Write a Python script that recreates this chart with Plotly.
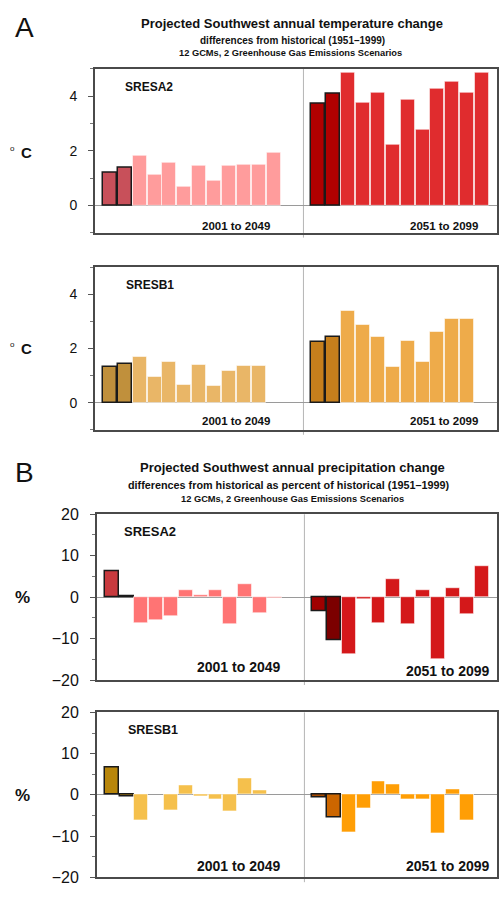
import plotly.graph_objects as go

# ---- data: projected Southwest annual changes, 12 GCMs per period ----
# Temperature change (deg C) vs 1951-1999
temp_a2_early = [1.19, 1.36, 1.80, 1.13, 1.54, 0.69, 1.46, 0.90, 1.46, 1.48, 1.50, 1.91]
temp_a2_late = [3.72, 4.10, 4.84, 3.74, 4.13, 2.20, 3.86, 2.76, 4.25, 4.51, 4.13, 4.86]
temp_b1_early = [1.31, 1.41, 1.68, 0.96, 1.49, 0.66, 1.39, 0.61, 1.18, 1.37, 1.37, None]
temp_b1_late = [2.22, 2.41, 3.37, 2.85, 2.43, 1.33, 2.29, 1.51, 2.59, 3.08, 3.08, None]

# Precipitation change (% of 1951-1999)
prec_a2_early = [6.2, 0.3, -6.3, -5.5, -4.7, 1.6, 0.4, 1.6, -6.5, 3.0, -3.8, -0.2]
prec_a2_late = [-3.5, -10.5, -13.8, -0.6, -6.2, 4.4, -6.6, 1.7, -15.0, 2.2, -4.1, 7.4]
prec_b1_early = [6.7, -0.4, -6.2, None, -3.7, 2.3, -0.4, -1.1, -4.0, 4.1, 1.0, None]
prec_b1_late = [-0.6, -5.6, -9.0, -3.3, 3.3, 2.5, -1.1, -1.1, -9.4, 1.4, -6.2, None]

temp_ticks = [0, 2, 4]
prec_ticks = [-20, -10, 0, 10, 20]
period_labels = ["2001 to 2049", "2051 to 2099"]
scenario_labels = ["SRESA2", "SRESB1"]

W, H = 500, 899
FONT = "Liberation Sans, Arial, sans-serif"
INK = "#111111"

fig = go.Figure()


def bar_style(dark, light, dark2=None):
    """First two bars highlighted with a dark fill and black outline."""
    d2 = dark2 or dark
    fills = [dark, d2] + [light] * 10
    edges = ["#1a1a1a", "#1a1a1a"] + ["rgba(255,255,255,0.55)"] * 10
    widths = [1.5, 1.5] + [1.0] * 10
    return fills, edges, widths


def add_group(values, start, axis_n, style):
    fills, edges, widths = style
    xs = [start + i for i in range(len(values))]
    fig.add_trace(go.Bar(
        x=xs, y=values, width=0.94,
        marker=dict(color=fills, line=dict(color=edges, width=widths)),
        xaxis="x" if axis_n == 1 else f"x{axis_n}",
        yaxis="y" if axis_n == 1 else f"y{axis_n}",
        showlegend=False, hoverinfo="x+y",
    ))


EARLY, LATE = 1, 15

add_group(temp_a2_early, EARLY, 1, bar_style("#c8505a", "#ff9c9c"))
add_group(temp_a2_late, LATE, 1, bar_style("#b00000", "#e02c2e"))
add_group(temp_b1_early, EARLY, 2, bar_style("#c0903c", "#e9b667"))
add_group(temp_b1_late, LATE, 2, bar_style("#c67f1c", "#eeab4a"))
add_group(prec_a2_early, EARLY, 3, bar_style("#c83a3e", "#ff7474"))
add_group(prec_a2_late, LATE, 3, bar_style("#a00000", "#d4181a", "#7c0000"))
add_group(prec_b1_early, EARLY, 4, bar_style("#b8860b", "#f5c04c"))
add_group(prec_b1_late, LATE, 4, bar_style("#a84a00", "#ff9e05", "#cc6600"))


def xdom(a, b):
    return [a / W, b / W]


def ydom(top, bottom):
    return [(H - bottom) / H, (H - top) / H]


boxes = {
    1: (95, 497, 62, 229),
    2: (95, 497, 264, 430),
    3: (97, 497, 516, 685),
    4: (97, 497, 718, 886),
}

for n, (x0, x1, y0, y1) in boxes.items():
    xa = "xaxis" if n == 1 else f"xaxis{n}"
    ya = "yaxis" if n == 1 else f"yaxis{n}"
    temp = n <= 2
    fig.layout[xa] = dict(
        domain=xdom(x0, x1), range=[0, 27], anchor="y" if n == 1 else f"y{n}",
        showticklabels=False, ticks="", showgrid=False, zeroline=False,
        showline=True, mirror=True, linecolor="#4a4a4a", linewidth=2,
    )
    fig.layout[ya] = dict(
        domain=ydom(y0, y1), anchor="x" if n == 1 else f"x{n}",
        range=[-1, 5] if temp else [-20, 20],
        tickvals=temp_ticks if temp else prec_ticks,
        ticks="outside", ticklen=5, tickwidth=1, tickcolor="#555555",
        minor=dict(dtick=1 if temp else 5, tick0=0, ticks="outside", ticklen=3,
                   tickcolor="#777777", showgrid=False),
        tickfont=dict(family=FONT, size=14 if temp else 16, color=INK),
        ticklabelstandoff=8,
        showgrid=False, zeroline=True, zerolinecolor="#9a9a9a", zerolinewidth=1,
        showline=True, mirror=True, linecolor="#4a4a4a", linewidth=2,
    )
    # divider between the two periods
    fig.add_shape(type="line", xref="x" if n == 1 else f"x{n}",
                  yref=("y" if n == 1 else f"y{n}") + " domain",
                  x0=14, x1=14, y0=-0.03, y1=1,
                  line=dict(color="#b5b5b5", width=1), layer="below")


def ann(text, px, py, size, bold=False, xanchor="center", yanchor="middle"):
    fig.add_annotation(
        text=f"<b>{text}</b>" if bold else text,
        x=px / W, y=1 - py / H, xref="paper", yref="paper",
        xanchor=xanchor, yanchor=yanchor, showarrow=False,
        font=dict(family=FONT, size=size, color=INK),
    )


# Panel A headings
ann("A", 13, 20, 28, xanchor="left")
ann("Projected Southwest annual temperature change", 292, 16, 13, bold=True)
ann("differences from historical (1951\u20131999)", 292, 33, 10, bold=True)
ann("12 GCMs, 2 Greenhouse Gas Emissions Scenarios", 290, 46, 9.3, bold=True)

# Panel B headings
ann("B", 13, 473, 28, xanchor="left")
ann("Projected Southwest annual precipitation change", 292, 468, 13, bold=True)
ann("differences from historical as percent of historical (1951\u20131999)", 288, 486, 10.8, bold=True)
ann("12 GCMs, 2 Greenhouse Gas Emissions Scenarios", 292, 500, 9.3, bold=True)

# Unit labels: a small raised degree mark and a bold C
for yc in (147, 347):
    ann("o", 12, yc - 4, 8)
    ann("C", 26, yc, 15, bold=True)
ann("%", 22, 601, 17, bold=True)
ann("%", 22, 803, 17, bold=True)

# Scenario labels
ann(scenario_labels[0], 123, 81, 12, bold=True, xanchor="left")
ann(scenario_labels[1], 124, 282, 12, bold=True, xanchor="left")
ann(scenario_labels[0], 122, 534, 13, bold=True, xanchor="left")
ann(scenario_labels[1], 126, 736, 12.5, bold=True, xanchor="left")

# Period labels
for (ye, yl2, size, xe, xl) in [
    (222, 222, 11.5, 236, 444),
    (421, 421, 11.5, 236, 444),
    (672, 676, 14, 238, 447),
    (875, 875, 14, 238, 447),
]:
    ann(period_labels[0], xe, ye, size, bold=True)
    ann(period_labels[1], xl, yl2, size, bold=True)

fig.update_layout(
    width=W, height=H, margin=dict(l=0, r=0, t=0, b=0),
    paper_bgcolor="white", plot_bgcolor="white",
    barmode="overlay", bargap=0,
    font=dict(family=FONT, color=INK),
)

fig.write_html("out.html")
